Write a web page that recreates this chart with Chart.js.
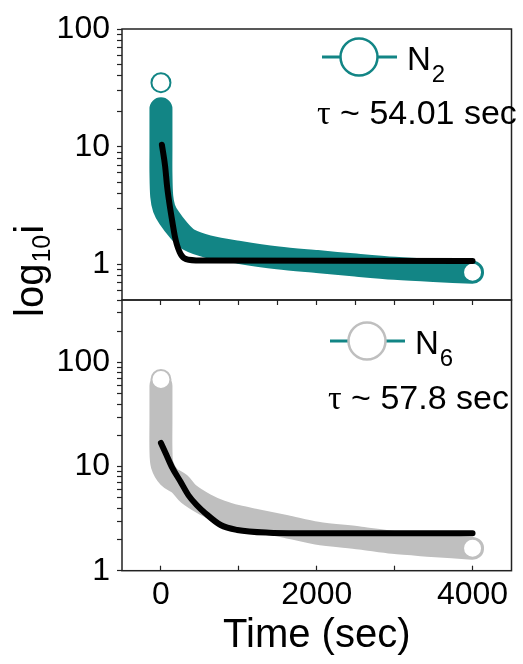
<!DOCTYPE html>
<html>
<head>
<meta charset="utf-8">
<script src="https://cdn.jsdelivr.net/npm/chart.js@4.4.0/dist/chart.umd.min.js"></script>
<style>
  body { margin: 0; background: #fff; }
  #wrap { position: relative; width: 523px; height: 664px; }
  #wrap canvas { position: absolute; left: 0; top: 0; }
</style>
</head>
<body>
<div id="wrap">
  <canvas id="topChart" width="523" height="664"></canvas>
  <canvas id="bottomChart" width="523" height="664"></canvas>
</div>
<script>
// N2 scatter, read along the middle of the teal band (top panel)
var n2Time  = [0, 0, 0, 0, 10, 40, 104, 229, 354, 604, 1004, 1500, 2004, 2500, 3000, 3500, 4000];
var n2Value = [21, 14, 9.5, 6, 3.8, 3.0, 2.5, 1.95, 1.63, 1.42, 1.27, 1.14, 1.06, 0.99, 0.93, 0.89, 0.86];
// first and last N2 readings (open circles)
var n2EndTime  = [0, 4000];
var n2EndValue = [35, 0.86];
// exponential fit for N2 (black)
var fitN2Time  = [12, 54, 79, 141, 179, 204, 241, 266, 300, 354, 600, 4000];
var fitN2Value = [10.4, 6.8, 4.6, 2.42, 1.73, 1.48, 1.27, 1.19, 1.13, 1.10, 1.08, 1.07];

// N6 scatter, middle of the grey band (bottom panel)
var n6Time  = [0, 0, 0, 16, 104, 241, 354, 566, 766, 979, 1191, 1604, 2000, 2560, 2979, 3479, 4000];
var n6Value = [60, 28, 14.5, 10.4, 7.96, 6.82, 5.47, 4.33, 3.71, 3.32, 3.07, 2.66, 2.3, 2.06, 1.87, 1.75, 1.64];
var n6EndTime  = [0, 4000];
var n6EndValue = [69, 1.64];
// exponential fit for N6 (black)
var fitN6Time  = [0, 62, 141, 250, 354, 458, 566, 766, 979, 1391, 2000, 4000];
var fitN6Value = [16.9, 13.4, 9.9, 7.2, 5.3, 4.28, 3.59, 2.75, 2.46, 2.32, 2.29, 2.29];

// axis ticks
var topYTicks = [0.5, 0.6, 0.7, 0.8, 0.9, 1, 2, 3, 4, 5, 6, 7, 8, 9, 10, 20, 30, 40, 50, 60, 70, 80, 90, 100];
var bottomYTicks = [1, 2, 3, 4, 5, 6, 7, 8, 9, 10, 20, 30, 40, 50, 60, 70, 80, 90, 100, 200, 300];
var yLabels = [1, 10, 100];
var xBottomTicks = [0, 1000, 2000, 3000, 4000];
var xTopTicks = [0, 500, 1000, 1500, 2000, 2500, 3000, 3500, 4000];
var xLabels = [0, 2000, 4000];

var teal = '#128585';
var grey = '#bfbfbf';
var sans = '"Liberation Sans", Arial, sans-serif';

Chart.defaults.font.family = sans;
Chart.defaults.color = '#000';

function points(xs, ys) {
    var out = [];
    for (var i = 0; i < xs.length; i++) {
        out.push({x: xs[i], y: ys[i]});
    }
    return out;
}

// frame round the plot, the legend key and the tau note
var decor = {
    id: 'decor',
    afterDraw: function(chart, args, o) {
        var ctx = chart.ctx;
        var a = chart.chartArea;
        ctx.save();
        ctx.strokeStyle = '#222';
        ctx.lineWidth = 1.5;
        ctx.strokeRect(a.left, a.top, a.right - a.left, a.bottom - a.top);

        ctx.strokeStyle = teal;
        ctx.lineWidth = 3;
        ctx.beginPath();
        ctx.moveTo(o.keyX - 37, o.keyY);
        ctx.lineTo(o.keyX + 38, o.keyY);
        ctx.stroke();
        ctx.beginPath();
        ctx.arc(o.keyX, o.keyY, 18.5, 0, 2 * Math.PI);
        ctx.fillStyle = '#fff';
        ctx.fill();
        ctx.strokeStyle = o.ring;
        ctx.lineWidth = 2.5;
        ctx.stroke();

        ctx.fillStyle = '#000';
        ctx.textAlign = 'left';
        ctx.textBaseline = 'alphabetic';
        ctx.font = '33px ' + sans;
        ctx.fillText(o.name, o.keyX + 48, o.keyY + 13);
        var w = ctx.measureText(o.name).width;
        ctx.font = '24px ' + sans;
        ctx.fillText(o.sub, o.keyX + 49 + w, o.keyY + 25);

        ctx.font = '34px "Liberation Serif", serif';
        ctx.fillText('\u03c4', o.tauX, o.tauY);
        var tw = ctx.measureText('\u03c4').width;
        ctx.font = '34px ' + sans;
        ctx.fillText(' ~ ' + o.tau, o.tauX + tw, o.tauY);

        if (o.yTitle) {
            ctx.translate(o.yTitleX, o.yTitleY);
            ctx.rotate(-Math.PI / 2);
            ctx.font = '40px ' + sans;
            ctx.fillText('log', 0, 0);
            var lw = ctx.measureText('log').width;
            ctx.font = '25px ' + sans;
            ctx.fillText('10', lw + 1, 7);
            var sw = ctx.measureText('10').width;
            ctx.font = '40px ' + sans;
            ctx.fillText('i', lw + sw + 2, 0);
        }
        ctx.restore();
    }
};

function yAxis(ticks, min, max) {
    return {
        type: 'logarithmic',
        min: min,
        max: max,
        afterBuildTicks: function(s) { s.ticks = ticks.map(function(v) { return {value: v}; }); },
        afterFit: function(s) { s.width = 122; },
        ticks: {
            autoSkip: false,
            padding: 7,
            font: {size: 32},
            color: '#000',
            callback: function(v) { return yLabels.indexOf(v) >= 0 ? String(v) : ''; }
        },
        grid: {drawOnChartArea: false, tickLength: 5, tickColor: '#222', tickWidth: 1.2},
        border: {display: false}
    };
}

function bandSet(label, xs, ys, color) {
    return {
        label: label, data: points(xs, ys), showLine: true,
        borderColor: color, borderWidth: 23, borderCapStyle: 'round', borderJoinStyle: 'round',
        tension: 0.3, pointRadius: 0, pointHoverRadius: 0, order: 3
    };
}
function endSet(label, xs, ys, color) {
    return {
        label: label, data: points(xs, ys), showLine: false,
        pointRadius: 9.5, pointBorderWidth: 2, pointBorderColor: color,
        pointBackgroundColor: '#fff', order: 2
    };
}
function fitSet(label, xs, ys) {
    return {
        label: label, data: points(xs, ys), showLine: true,
        borderColor: '#000', borderWidth: 6, borderCapStyle: 'round', borderJoinStyle: 'round',
        cubicInterpolationMode: 'monotone', pointRadius: 0, pointHoverRadius: 0, order: 1
    };
}

var topChart = new Chart(document.getElementById('topChart'), {
    type: 'scatter',
    data: {
        datasets: [
            bandSet('N2', n2Time, n2Value, teal),
            endSet('N2 ends', n2EndTime, n2EndValue, teal),
            fitSet('N2 fit', fitN2Time, fitN2Value)
        ]
    },
    options: {
        responsive: false,
        animation: false,
        devicePixelRatio: 1,
        layout: {padding: {left: 0, top: 29, right: 2.5, bottom: 364}},
        scales: {
            x: {type: 'linear', min: -500, max: 4500, display: false},
            y: yAxis(topYTicks, 0.5, 100)
        },
        plugins: {
            legend: {display: false},
            tooltip: {enabled: false},
            decor: {keyX: 359, keyY: 57, ring: teal, name: 'N', sub: '2',
                    tauX: 317, tauY: 124, tau: '54.01 sec'}
        }
    },
    plugins: [decor]
});

var bottomChart = new Chart(document.getElementById('bottomChart'), {
    type: 'scatter',
    data: {
        datasets: [
            bandSet('N6', n6Time, n6Value, grey),
            endSet('N6 ends', n6EndTime, n6EndValue, grey),
            fitSet('N6 fit', fitN6Time, fitN6Value)
        ]
    },
    options: {
        responsive: false,
        animation: false,
        devicePixelRatio: 1,
        layout: {padding: {left: 0, top: 300, right: 2.5, bottom: 4}},
        scales: {
            x: {
                type: 'linear', min: -500, max: 4500, position: 'bottom',
                afterBuildTicks: function(s) { s.ticks = xBottomTicks.map(function(v) { return {value: v}; }); },
                afterFit: function(s) { s.height = 89.3; },
                ticks: {
                    autoSkip: false, maxRotation: 0, padding: 10,
                    font: {size: 32}, color: '#000',
                    callback: function(v) { return xLabels.indexOf(v) >= 0 ? String(v) : ''; }
                },
                grid: {drawOnChartArea: false, tickLength: -5, tickColor: '#222', tickWidth: 1.2},
                border: {display: false},
                title: {display: true, text: 'Time (sec)', font: {size: 40}, color: '#000', padding: 0}
            },
            x2: {
                type: 'linear', min: -500, max: 4500, position: 'top',
                afterBuildTicks: function(s) { s.ticks = xTopTicks.map(function(v) { return {value: v}; }); },
                afterFit: function(s) { s.height = 0; },
                ticks: {display: false},
                grid: {drawOnChartArea: false, tickLength: -5, tickColor: '#222', tickWidth: 1.2},
                border: {display: false}
            },
            y: yAxis(bottomYTicks, 1, 400)
        },
        plugins: {
            legend: {display: false},
            tooltip: {enabled: false},
            decor: {keyX: 367, keyY: 341, ring: grey, name: 'N', sub: '6',
                    tauX: 328, tauY: 409, tau: '57.8 sec',
                    yTitle: true, yTitleX: 43, yTitleY: 317}
        }
    },
    plugins: [decor]
});
</script>
</body>
</html>
